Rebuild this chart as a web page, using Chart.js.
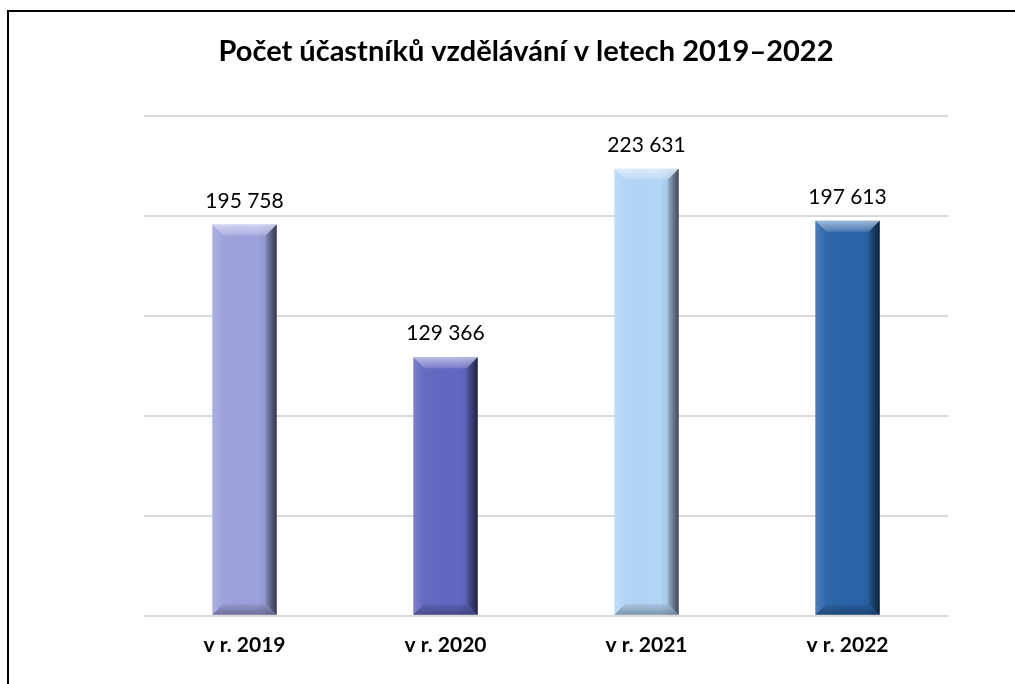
<!DOCTYPE html>
<html>
<head>
<meta charset="utf-8">
<script src="https://cdn.jsdelivr.net/npm/chart.js@4"></script>
<style>
  html, body { margin: 0; padding: 0; background: #ffffff; }
  #wrap { position: relative; width: 1015px; height: 684px; overflow: hidden; }
  #frame { position: absolute; left: 7px; top: 10px; width: 1100px; height: 800px; border-left: 2px solid #000; border-top: 2px solid #000; box-sizing: border-box; }
  canvas { position: absolute; left: 0; top: 0; }
</style>
</head>
<body>
<div id="wrap">
  <div id="frame"></div>
  <canvas id="c" width="1015" height="684"></canvas>
</div>
<script>
const titleText = 'Počet účastníků vzdělávání v letech 2019–2022';
const categories = ['v r. 2019', 'v r. 2020', 'v r. 2021', 'v r. 2022'];
const participants = [195758, 129366, 223631, 197613];
const barColors = ['#9ca1dc', '#6267c2', '#b3d6f7', '#2a64a9'];
const yTicks = [0, 50000, 100000, 150000, 200000, 250000];

function fmt(v) {
  return String(v).replace(/\B(?=(\d{3})+(?!\d))/g, ' ');
}

const titlePlugin = {
  id: 'centeredTitle',
  afterDraw(chart) {
    const ctx = chart.ctx;
    ctx.save();
    ctx.font = 'bold 29px Lato, "Open Sans", sans-serif';
    ctx.fillStyle = '#000000';
    ctx.textAlign = 'center';
    ctx.textBaseline = 'middle';
    ctx.fillText(titleText, 526, 52);
    ctx.restore();
  }
};

const bevelPlugin = {
  id: 'bevel',
  afterDatasetsDraw(chart) {
    const ctx = chart.ctx;
    const meta = chart.getDatasetMeta(0);
    meta.data.forEach((bar) => {
      const w = bar.width;
      const l = bar.x - w / 2, r = bar.x + w / 2, t = bar.y, b = bar.base;
      const s = 11;
      ctx.save();
      let g = ctx.createLinearGradient(l, 0, r, 0);
      g.addColorStop(0, 'rgba(255,255,255,0.05)');
      g.addColorStop(0.7, 'rgba(0,0,0,0)');
      g.addColorStop(1, 'rgba(0,0,0,0.15)');
      ctx.fillStyle = g;
      ctx.fillRect(l, t, w, b - t);
      g = ctx.createLinearGradient(0, t, 0, t + s);
      g.addColorStop(0, 'rgba(255,255,255,0.55)');
      g.addColorStop(1, 'rgba(255,255,255,0.15)');
      ctx.fillStyle = g;
      ctx.beginPath();
      ctx.moveTo(l, t); ctx.lineTo(r, t); ctx.lineTo(r - s, t + s); ctx.lineTo(l + s, t + s); ctx.closePath();
      ctx.fill();
      g = ctx.createLinearGradient(l, 0, l + s, 0);
      g.addColorStop(0, 'rgba(255,255,255,0.12)');
      g.addColorStop(1, 'rgba(255,255,255,0.0)');
      ctx.fillStyle = g;
      ctx.beginPath();
      ctx.moveTo(l, t); ctx.lineTo(l + s, t + s); ctx.lineTo(l + s, b - s); ctx.lineTo(l, b); ctx.closePath();
      ctx.fill();
      g = ctx.createLinearGradient(r - s, 0, r, 0);
      g.addColorStop(0, 'rgba(0,0,0,0.1)');
      g.addColorStop(1, 'rgba(0,0,0,0.6)');
      ctx.fillStyle = g;
      ctx.beginPath();
      ctx.moveTo(r, t); ctx.lineTo(r, b); ctx.lineTo(r - s, b - s); ctx.lineTo(r - s, t + s); ctx.closePath();
      ctx.fill();
      g = ctx.createLinearGradient(0, b - s, 0, b);
      g.addColorStop(0, 'rgba(0,0,0,0.05)');
      g.addColorStop(1, 'rgba(0,0,0,0.3)');
      ctx.fillStyle = g;
      ctx.beginPath();
      ctx.moveTo(l, b); ctx.lineTo(r, b); ctx.lineTo(r - s, b - s); ctx.lineTo(l + s, b - s); ctx.closePath();
      ctx.fill();
      ctx.restore();
    });
  }
};

const labelPlugin = {
  id: 'valueLabels',
  afterDatasetsDraw(chart) {
    const ctx = chart.ctx;
    const meta = chart.getDatasetMeta(0);
    ctx.save();
    ctx.font = '21px Lato, "Open Sans", sans-serif';
    ctx.fillStyle = '#000000';
    ctx.textAlign = 'center';
    ctx.textBaseline = 'bottom';
    meta.data.forEach((bar, i) => {
      ctx.fillText(fmt(participants[i]), bar.x, bar.y - 13);
    });
    ctx.restore();
  }
};

new Chart(document.getElementById('c'), {
  type: 'bar',
  data: {
    labels: categories,
    datasets: [{
      data: participants,
      backgroundColor: barColors,
      borderWidth: 0,
      barPercentage: 0.32,
      categoryPercentage: 1.0
    }]
  },
  options: {
    responsive: false,
    animation: false,
    devicePixelRatio: 1,
    layout: { padding: { left: 144, right: 67, top: 116, bottom: 17 } },
    plugins: {
      legend: { display: false },
      tooltip: { enabled: false },
      title: { display: false }
    },
    scales: {
      x: {
        grid: { display: false },
        border: { display: false },
        ticks: {
          color: '#000000',
          padding: 9,
          font: { family: 'Lato, "Open Sans", sans-serif', size: 21, weight: 'bold' }
        }
      },
      y: {
        min: yTicks[0],
        max: yTicks[yTicks.length - 1],
        afterBuildTicks(axis) { axis.ticks = yTicks.map(v => ({ value: v })); },
        border: { display: false },
        grid: { color: '#d9d9d9', lineWidth: 2, drawTicks: false },
        ticks: { display: false }
      }
    }
  },
  plugins: [bevelPlugin, labelPlugin, titlePlugin]
});
</script>
</body>
</html>
